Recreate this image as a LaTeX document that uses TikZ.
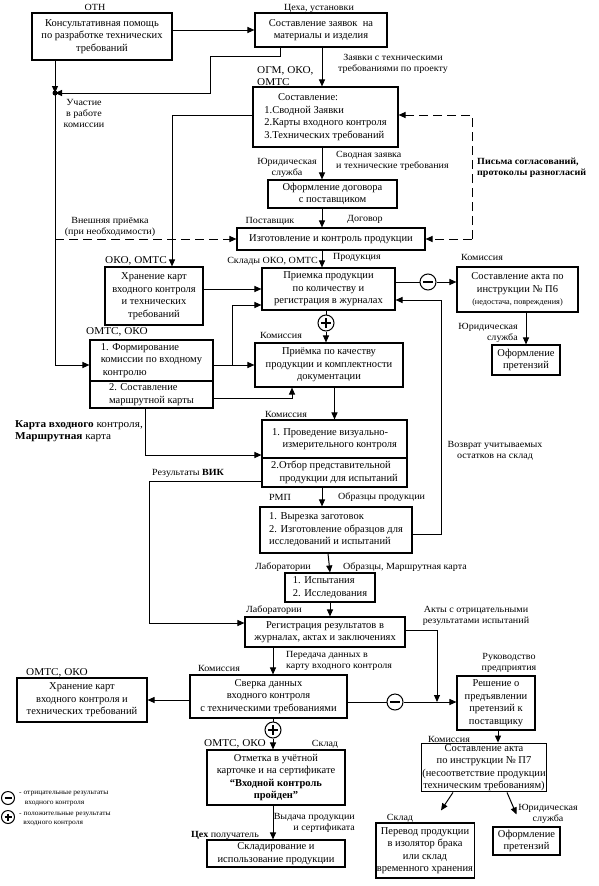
\documentclass[tikz,border=0pt]{standalone}
\usepackage{fontspec}
\setmainfont{Liberation Serif}
\newfontfamily\lblfam{Liberation Serif}[FakeStretch=1.07]
\usetikzlibrary{arrows.meta}
\newcommand{\boxfont}{\fontsize{10.5}{12.5}\selectfont}
\newcommand{\lblfont}{\lblfam\fontsize{9.4}{11}\selectfont}
\newcommand{\biglbl}{\lblfam\fontsize{10.5}{12}\selectfont}
\newcommand{\legfont}{\lblfam\fontsize{7}{9.2}\selectfont}
\tikzset{
  blk/.style={draw, line width=1.1pt, align=center, font=\boxfont, inner sep=1pt},
  lbl/.style={font=\lblfont, inner sep=0pt, align=center},
  arr/.style={line width=1pt, -{Triangle[length=7pt,width=6pt]}},
  ln/.style={line width=1pt},
  signminus/.style={circle, draw, line width=1pt, minimum size=16pt, inner sep=0pt, fill=white,
    path picture={\draw[line width=1.1pt] ([xshift=3pt]path picture bounding box.west) -- ([xshift=-3pt]path picture bounding box.east);}},
  signplus/.style={circle, draw, line width=1pt, minimum size=16pt, inner sep=0pt, fill=white,
    path picture={\draw[line width=1.1pt] ([xshift=3pt]path picture bounding box.west) -- ([xshift=-3pt]path picture bounding box.east);
      \draw[line width=1.1pt] ([yshift=-3pt]path picture bounding box.north) -- ([yshift=3pt]path picture bounding box.south);}}
}
\begin{document}
\begin{tikzpicture}[x=1pt,y=-1pt]
\useasboundingbox (0,0) rectangle (598,886);
\node[blk, minimum width=140pt, minimum height=47pt] (cons) at (102,36.5) {Консультативная помощь\\по разработке технических\\требований};
\node[blk, minimum width=132pt, minimum height=34pt] (zayav) at (321,30) {Составление заявок~ на\\материалы и изделия};
\node[blk, minimum width=145pt, minimum height=60pt, align=left] (sostav) at (325.5,117) {\hspace{1.3em}Составление:\\1.Сводной Заявки\\2.Карты входного контроля\\3.Технических требований};
\node[blk, minimum width=129pt, minimum height=28pt] (dogovor) at (332.5,194) {Оформление договора\\с поставщиком};
\node[blk, minimum width=188pt, minimum height=22pt] (izgot) at (331,239) {Изготовление и контроль продукции};
\node[blk, minimum width=98pt, minimum height=58pt] (hran1) at (154,296) {Хранение карт\\входного контроля\\и технических\\требований};
\node[blk, minimum width=133pt, minimum height=42pt] (priem) at (328.5,289) {Приемка продукции\\по количеству и\\регистрация в журналах};
\node[blk, minimum width=121pt, minimum height=45pt] (aktP6) at (517.5,289.5) {Составление акта по\\инструкции № П6\\{\fontsize{8.2}{9.5}\selectfont (недостача, повреждения)}};
\node[blk, minimum width=68pt, minimum height=30pt] (pret1) at (526,360) {Оформление\\претензий};
\node[blk, minimum width=148pt, minimum height=44pt] (kach) at (329,365) {Приёмка по качеству\\продукции и комплектности\\документации};
\node[blk, minimum width=123pt, minimum height=41pt, align=left] (form1) at (151.5,360.5) {1. Формирование\\комиссии по входному\\\hspace{0.2em}контролю};
\node[blk, minimum width=123pt, minimum height=27pt, align=left] (form2) at (151.5,394.5) {2. Составление\\маршрутной карты};
\node[blk, minimum width=145pt, minimum height=38pt, align=left] (vik1) at (334.5,439) {1. Проведение визуально-\\\hspace{1em}измерительного контроля};
\node[blk, minimum width=145pt, minimum height=29pt, align=left] (vik2) at (334.5,472.5) {2.Отбор представительной\\\hspace{0.8em}продукции для испытаний};
\node[blk, minimum width=152pt, minimum height=46pt, align=left] (vyr) at (336,530) {1. Вырезка заготовок\\2. Изготовление образцов для\\исследований и испытаний};
\node[blk, minimum width=90pt, minimum height=29pt, align=left] (isp) at (330,587.5) {1. Испытания\\2. Исследования};
\node[blk, minimum width=160pt, minimum height=30pt] (reg) at (325,632) {Регистрация результатов в\\журналах, актах и заключениях};
\node[blk, minimum width=157pt, minimum height=43pt] (sverka) at (268.5,696.5) {Сверка данных\\входного контроля\\с техническими требованиями};
\node[blk, minimum width=130pt, minimum height=44pt] (hran2) at (82,700) {Хранение карт\\входного контроля и\\технических требований};
\node[blk, minimum width=78pt, minimum height=54pt] (resh) at (496,703) {Решение о\\предъявлении\\претензий к\\поставщику};
\node[blk, minimum width=138pt, minimum height=55pt] (otm) at (276,777.5) {Отметка в учётной\\карточке и на сертификате\\\textbf{“Входной контроль}\\\textbf{пройден”}};
\node[blk, minimum width=138pt, minimum height=27pt] (sklad) at (276,853.5) {Складирование и\\использование продукции};
\node[blk, minimum width=112pt, minimum height=45pt] (aktP7) at (484,767.5) {Составление акта\\по инструкции № П7\\(несоответствие продукции\\техническим требованиям)};
\node[blk, minimum width=80pt, minimum height=55pt] (izol) at (425,850.5) {Перевод продукции\\в изолятор брака\\или склад\\временного хранения};
\node[blk, minimum width=67pt, minimum height=28pt] (pret2) at (526.5,841) {Оформление\\претензий};

\node[signplus] (plusA) at (326,323) {};
\node[signminus] (minusA) at (428,282) {};
\node[signminus] (minusB) at (395,702) {};
\node[signplus] (plusB) at (273,730) {};

\coordinate (dot) at (55,93);
\coordinate (col) at (322,0);
\coordinate (fb) at (472,0);
\coordinate (br) at (232,365);
\coordinate (ret) at (441,300);
\coordinate (join) at (437,702);

\draw[arr] (cons.east |- zayav.west) -- (zayav.west);
\draw[arr] ([xshift=-41pt]zayav.south) -- ++(0,9) -| (210,93) -- (dot);
\draw[arr] (cons.south -| dot) -- (dot);
\fill (dot) circle (2.5pt);
\draw[arr] (dot) |- ([yshift=-4.5pt]form1.west);
\draw[arr, dashed, dash pattern=on 9pt off 5pt] (dot |- izgot) -- (izgot.west);
\draw[arr] (zayav.south -| col) -- (sostav.north -| col);
\draw[arr] (sostav.south -| col) -- (dogovor.north -| col);
\draw[arr] (dogovor.south -| col) -- (izgot.north -| col);
\draw[arr] (izgot.south -| col) -- (priem.north -| col);
\draw[arr] ([yshift=2pt]sostav.west) -| ([xshift=18pt]hran1.north);
\draw[arr, dashed, dash pattern=on 9pt off 5pt] (fb |- izgot) -- (izgot.east);
\draw[arr, dashed, dash pattern=on 9pt off 5pt] (fb |- izgot) |- ([yshift=2pt]sostav.east);
\draw[arr] (hran1.east |- priem.west) -- (priem.west);
\draw[arr] (form1.east |- kach.west) -- (kach.west);
\draw[arr] (br) |- ([yshift=-16pt]priem.west);
\draw[arr] ([yshift=-3.5pt]form2.east) -| ([xshift=-37pt]kach.south);
\draw[ln] (priem.south -| plusA) -- (plusA);
\draw[arr] (plusA) -- (plusA |- kach.north);
\draw[ln] (priem.east |- minusA) -- (minusA);
\draw[arr] (minusA) -- (minusA -| aktP6.west);
\draw[arr] (aktP6.south -| pret1) -- (pret1.north);
\draw[arr] ([yshift=-4pt]vyr.east) -| (ret) -- (ret -| priem.east);
\draw[arr] (kach.south -| vik1) -- (vik1.north);
\draw[arr] ([xshift=-6.5pt]form2.south) |- ([yshift=-16pt]vik1.west);
\draw[arr] ([yshift=-8.5pt]vik2.west) -- ++(-112,0) |- ([yshift=9pt]reg.west);
\draw[arr] (vik2.south -| col) -- (vyr.north -| col);
\draw[arr] ([xshift=-8pt]vyr.south) -- (isp.north);
\draw[arr] (isp.south) -- (isp.south |- reg.north);
\draw[arr] ([yshift=2pt]reg.east) -| (join);
\draw[arr] (reg.south -| plusB) -- (sverka.north -| plusB);
\draw[ln] (sverka.east |- minusB) -- (minusB);
\draw[arr] (minusB) -- (minusB -| resh.west);
\draw[arr] (sverka.west |- hran2.east) -- (hran2.east);
\draw[ln] (sverka.south -| plusB) -- (plusB);
\draw[arr] (plusB) -- (plusB |- otm.north);
\draw[arr] (otm.south -| plusB) -- (sklad.north -| plusB);
\draw[arr] ([xshift=2pt]resh.south) -- ([xshift=2pt]resh.south |- aktP7.north);
\draw[arr] ([xshift=-31pt]aktP7.south) -- ([xshift=16pt,yshift=12pt]izol.north);
\draw[arr] ([xshift=23pt]aktP7.south) -- ([xshift=-10pt,yshift=12pt]pret2.north);

\node[lbl] (lOTN) at (95,7) {ОТН};
\node[lbl] (lCeha) at (319,8) {Цеха, установки};
\node[lbl] (lUch) at (84,113) {Участие\\в работе\\комиссии};
\node[lbl] (lZayav) at (393,64) {Заявки с техническими\\требованиями по проекту};
\node[lbl, anchor=south west, align=left, font=\biglbl] (lOGM) at (257,86) {ОГМ, ОКО,\\ОМТС};
\node[lbl] (lYur1) at (287,168) {Юридическая\\служба};
\node[lbl, anchor=west, align=left] (lSvod) at (336,161) {Сводная заявка\\и технические требования};
\node[lbl] (lPost) at (270,221) {Поставщик};
\node[lbl] (lDog) at (365,219) {Договор};
\node[lbl, anchor=west, align=left, font=\lblfont\bfseries] (lPisma) at (477,168) {Письма согласований,\\протоколы разногласий};
\node[lbl] (lVnesh) at (110,227) {Внешняя приёмка\\(при необходимости)};
\node[lbl, font=\biglbl] (lOKO1) at (136,261) {ОКО, ОМТС};
\node[lbl, anchor=east] (lSkl) at (318,261) {Склады ОКО, ОМТС};
\node[lbl, anchor=west] (lProd) at (333,257) {Продукция};
\node[lbl] (lKom1) at (482,257) {Комиссия};
\node[lbl, anchor=east, align=right] (lYur2) at (518,333) {Юридическая\\служба};
\node[lbl] (lKom2) at (281,335) {Комиссия};
\node[lbl, font=\biglbl] (lOMTS1) at (117,332) {ОМТС, ОКО};
\node[lbl, anchor=west, align=left, font=\biglbl] (lKarta) at (15,431) {\textbf{Карта входного} контроля,\\\textbf{Маршрутная} карта};
\node[lbl] (lKom3) at (286,414) {Комиссия};
\node[lbl] (lVozv) at (495,451) {Возврат учитываемых\\остатков на склад};
\node[lbl, anchor=west] (lVIK) at (152,473) {Результаты \textbf{ВИК}};
\node[lbl] (lRMP) at (280,497) {РМП};
\node[lbl, anchor=west] (lObr1) at (338,497) {Образцы продукции};
\node[lbl] (lLab1) at (283,567) {Лаборатории};
\node[lbl, anchor=west] (lObr2) at (343,567) {Образцы, Маршрутная карта};
\node[lbl] (lLab2) at (274,610) {Лаборатории};
\node[lbl] (lAkty) at (476,616) {Акты с отрицательными\\результатами испытаний};
\node[lbl, anchor=west, align=left] (lPered) at (286,661) {Передача данных в\\карту входного контроля};
\node[lbl] (lKom4) at (219,668) {Комиссия};
\node[lbl] (lRuk) at (509,663) {Руководство\\предприятия};
\node[lbl, font=\biglbl] (lOMTS2) at (57,673) {ОМТС, ОКО};
\node[lbl, font=\biglbl] (lOMTS3) at (235,744) {ОМТС, ОКО};
\node[lbl] (lSkl2) at (325,744) {Склад};
\node[lbl] (lCeh) at (225,835) {\textbf{Цех} получатель};
\node[lbl, anchor=east, align=right] (lVyd) at (355,823) {Выдача продукции\\и сертификата};
\node[lbl] (lKom5) at (449,739) {Комиссия};
\node[lbl] (lSkl3) at (400,818) {Склад};
\node[lbl] (lYur3) at (548,814) {Юридическая\\служба};

\node[signminus, minimum size=13pt] (legM) at (8,798) {};
\node[signplus, minimum size=13pt] (legP) at (8,817) {};
\node[lbl, anchor=west, align=left, font=\legfont] (legMt) at (19,798.5) {- отрицательные результаты\\\hspace{0.8em}входного контроля};
\node[lbl, anchor=west, align=left, font=\legfont] (legPt) at (19,819) {- положительные результаты\\\hspace{0.6em}входного контроля};
\end{tikzpicture}
\end{document}
